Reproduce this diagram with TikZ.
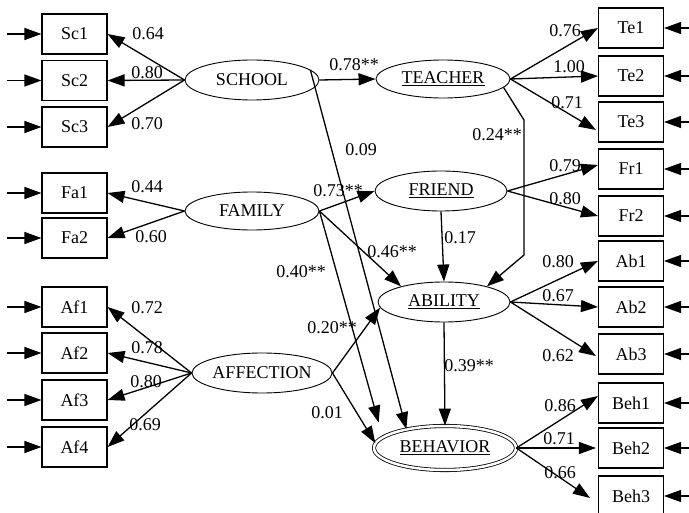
\documentclass[tikz,border=0pt]{standalone}
\usepackage{fontspec}
\setmainfont{Liberation Serif}
\usetikzlibrary{shapes.geometric,arrows.meta}
\begin{document}
\begin{tikzpicture}[x=1pt,y=-1pt, font=\fontsize{18}{21}\selectfont,
 obs/.style={draw, line width=1.1pt, minimum width=65pt, minimum height=40pt, inner sep=0pt},
 lat/.style={draw, ellipse, line width=0.9pt, minimum width=134pt, minimum height=40pt, inner sep=0pt},
 arr/.style={line width=1.3pt, -{Triangle[length=17pt,width=12pt]}},
 lbl/.style={inner sep=0pt}]
\useasboundingbox (0,0) rectangle (689,513);
% observed boxes left
\node[obs] (sc1) at (74.5,34) {Sc1};
\node[obs] (sc2) at (74.5,80.5) {Sc2};
\node[obs] (sc3) at (74.5,127) {Sc3};
\node[obs] (fa1) at (74.5,193) {Fa1};
\node[obs] (fa2) at (74.5,238) {Fa2};
\node[obs] (af1) at (74.5,307) {Af1};
\node[obs] (af2) at (74.5,353) {Af2};
\node[obs] (af3) at (74.5,400) {Af3};
\node[obs] (af4) at (74.5,447) {Af4};
% observed boxes right
\node[obs] (te1) at (631,28) {Te1};
\node[obs] (te2) at (631,76) {Te2};
\node[obs] (te3) at (631,122) {Te3};
\node[obs] (fr1) at (631,169) {Fr1};
\node[obs] (fr2) at (631,216) {Fr2};
\node[obs] (ab1) at (631,261) {Ab1};
\node[obs] (ab2) at (631,307) {Ab2};
\node[obs] (ab3) at (631,354) {Ab3};
\node[obs] (beh1) at (631,403) {Beh1};
\node[obs] (beh2) at (631,448) {Beh2};
\node[obs] (beh3) at (631,496) {Beh3};
% latent
\node[lat] (school) at (252,80) {SCHOOL};
\node[lat, minimum height=38pt] (family) at (252,211) {FAMILY};
\node[lat, minimum width=131pt] (affection) at (262,373) {AFFECTION};
\node[lat, minimum height=38pt] (teacher) at (443,79) {\underline{TEACHER}};
\node[lat, minimum width=132pt] (friend) at (441,191) {\underline{FRIEND}};
\node[lat, minimum width=132pt] (ability) at (444,302) {\underline{ABILITY}};
\node[draw, ellipse, double, double distance=2.5pt, line width=0.8pt, minimum width=142pt, minimum height=44pt, inner sep=0pt] (behavior) at (445,448) {\underline{BEHAVIOR}};
% error arrows
\foreach \n in {sc1,sc2,sc3,fa1,fa2,af1,af2,af3,af4}
  \draw[arr] ([xshift=-34pt]\n.west) -- (\n.west);
\foreach \n in {te1,te2,te3,fr1,fr2,ab1,ab2,ab3,beh1,beh2,beh3}
  \draw[arr] ([xshift=26pt]\n.east) -- (\n.east);
% loadings
\foreach \n in {sc1,sc2,sc3} \draw[arr] (school.west) -- (\n.east);
\foreach \n in {fa1,fa2} \draw[arr] (family.west) -- (\n.east);
\foreach \n in {af1,af2,af3,af4} \draw[arr] (affection.west) -- (\n.east);
\draw[arr] (teacher.east) -- (te1.west);
\draw[arr] (teacher.east) -- (te2.west);
\draw[arr] (teacher.east) -- ([yshift=-8pt,xshift=-2pt]te3.west);
\draw[arr] (friend.east) -- ([yshift=4pt]fr1.west);
\draw[arr] (friend.east) -- (fr2.west);
\draw[arr] (ability.east) -- (ab1.west);
\draw[arr] (ability.east) -- (ab2.west);
\draw[arr] (ability.east) -- ([yshift=-2pt,xshift=-2pt]ab3.west);
\draw[arr] (behavior.east) -- ([yshift=7pt]beh1.west);
\draw[arr] (behavior.east) -- ([xshift=-2pt]beh2.west);
\draw[arr] (behavior.east) -- ([xshift=-8pt,yshift=-2pt]beh3.west);
% structural
\coordinate (tb1) at (524,120);
\coordinate (tb2) at (524,255);
\draw[arr] (school.east) -- (teacher.west);
\draw[arr] (school.10) -- (behavior.154);
\draw[arr] (family.east) -- (friend.west);
\draw[arr] (family.east) -- (ability.160);
\draw[arr, shorten >=15pt] (family.east) -- (behavior.170);
\draw[arr] (friend.south) -- (ability.north);
\draw[arr] (teacher.-8) -- (tb1) -- (tb2) -- (ability.20);
\draw[arr] (affection.east) -- (ability.185);
\draw[arr] (affection.east) -- (behavior.176);
\draw[arr] (ability.south) -- (behavior.north);
% labels
\node[lbl] at (148,34) {0.64};
\node[lbl] at (147,73) {0.80};
\node[lbl] at (147,124) {0.70};
\node[lbl] at (147,187) {0.44};
\node[lbl] at (151,237) {0.60};
\node[lbl] at (147,308) {0.72};
\node[lbl] at (147,348) {0.78};
\node[lbl] at (146,382) {0.80};
\node[lbl] at (145,425) {0.69};
\node[lbl] at (354,65) {0.78**};
\node[lbl] at (361,150) {0.09};
\node[lbl] at (497,135) {0.24**};
\node[lbl] at (565,31) {0.76};
\node[lbl] at (569,67) {1.00};
\node[lbl] at (567,103) {0.71};
\node[lbl] at (565,166) {0.79};
\node[lbl] at (565,199) {0.80};
\node[lbl] at (460,238) {0.17};
\node[lbl] at (338,191) {0.73**};
\node[lbl] at (392,252) {0.46**};
\node[lbl] at (301,272) {0.40**};
\node[lbl] at (332,328) {0.20**};
\node[lbl] at (327,413) {0.01};
\node[lbl] at (469,366) {0.39**};
\node[lbl] at (558,262) {0.80};
\node[lbl] at (558,296) {0.67};
\node[lbl] at (558,356) {0.62};
\node[lbl] at (560,406) {0.86};
\node[lbl] at (559,439) {0.71};
\node[lbl] at (560,473) {0.66};
\end{tikzpicture}
\end{document}
